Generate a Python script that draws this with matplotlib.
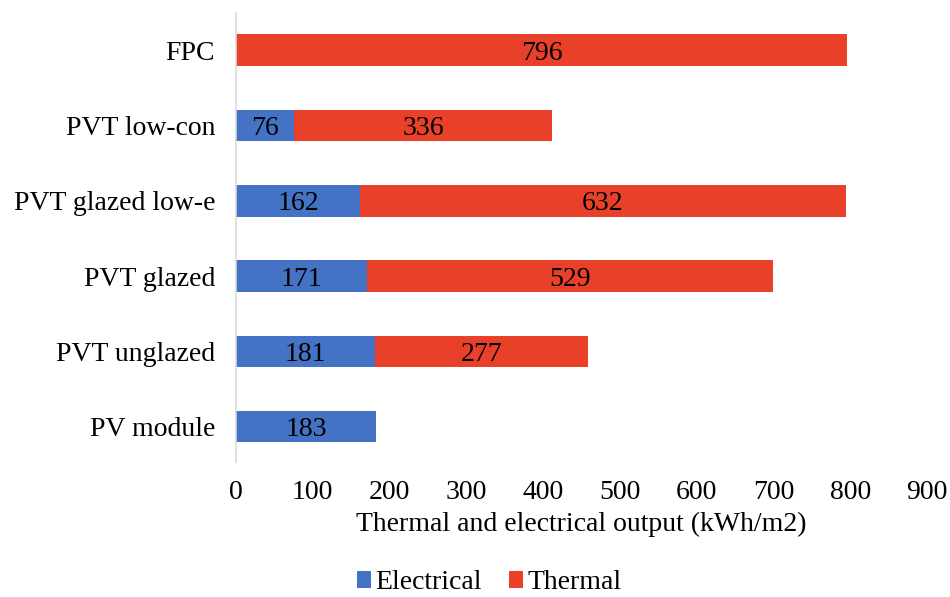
import matplotlib
matplotlib.use("Agg")
import matplotlib.pyplot as plt
import numpy as np

categories = ["PV module", "PVT unglazed", "PVT glazed", "PVT glazed low-e", "PVT low-con", "FPC"]
electrical = [183, 181, 171, 162, 76, 0]
thermal = [0, 277, 529, 632, 336, 796]
xticks = [0, 100, 200, 300, 400, 500, 600, 700, 800, 900]

plt.rcParams['font.family'] = ['Liberation Serif', 'DejaVu Serif']

fig = plt.figure(figsize=(9.5, 5.97), dpi=100)
ax = fig.add_axes([0.2484, 0.226, 0.7274, 0.752])

y = np.arange(len(categories))
h = 0.42
blue = '#4472C4'
red = '#E9402A'
b1 = ax.barh(y, electrical, height=h, color=blue, label='Electrical')
b2 = ax.barh(y, thermal, height=h, left=electrical, color=red, label='Thermal')

fs = 20
for rects, vals in ((b1, electrical), (b2, thermal)):
    for r, v in zip(rects, vals):
        if v > 0:
            ax.text(r.get_x() + r.get_width() / 2, r.get_y() + r.get_height() / 2, str(v),
                    ha='center', va='center_baseline', fontsize=fs, color='black')

ax.set_xlim(0, 900)
ax.set_ylim(-0.47, 5.49)
ax.set_xticks(xticks)
ax.set_xticklabels([str(t) for t in xticks], fontsize=fs)
ax.set_yticks(y)
ax.set_yticklabels(categories, fontsize=fs)
ax.tick_params(axis='both', length=0)
ax.tick_params(axis='y', pad=15)
ax.tick_params(axis='x', pad=13)
for s in ['top', 'right', 'bottom']:
    ax.spines[s].set_visible(False)
ax.spines['left'].set_color('#D9D9D9')
ax.spines['left'].set_linewidth(1.2)
ax.set_xlabel('Thermal and electrical output (kWh/m2)', fontsize=fs, labelpad=5)

fig.legend(handles=[b1, b2], loc='center', bbox_to_anchor=(0.515, 0.024), ncol=2,
           frameon=False, fontsize=fs, handlelength=0.5, handleheight=0.6,
           handletextpad=0.15, columnspacing=1.0)

fig.savefig('out.png', dpi=100)
